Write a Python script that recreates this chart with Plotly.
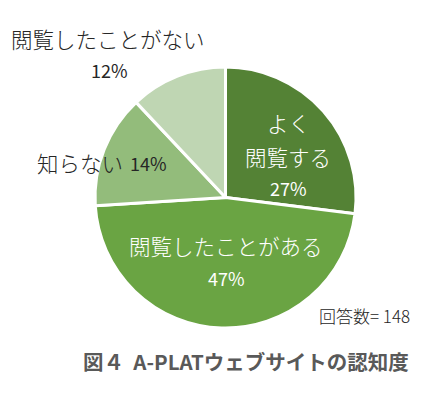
import plotly.graph_objects as go

categories = ["よく閲覧する", "閲覧したことがある", "知らない", "閲覧したことがない"]
values = [27, 47, 14, 12]
colors = ["#548235", "#6AA443", "#93BC7B", "#BFD6B3"]
n_resp = 148
title = "図４  A-PLATウェブサイトの認知度"

W, H = 444, 397
FONT = "Noto Sans CJK JP, Noto Sans, sans-serif"

fig = go.Figure(go.Pie(
    labels=categories, values=values, sort=False, direction="clockwise", rotation=0,
    marker=dict(colors=colors, line=dict(color="white", width=3)),
    textinfo="none", hoverinfo="label+percent", showlegend=False,
    domain=dict(x=[95 / W, 356 / W], y=[1 - 328 / H, 1 - 67 / H]),
))

def ann(text, x, y, size, color, bold=False, weight=None):
    f = dict(family=FONT, size=size, color=color)
    if weight:
        f["weight"] = weight
    fig.add_annotation(
        text=f"<b>{text}</b>" if bold else text,
        x=x / W, y=1 - y / H, xref="paper", yref="paper",
        xanchor="center", yanchor="middle", showarrow=False,
        font=f,
    )

pct = [f"{v}%" for v in values]
JS, PS = 21.5, 18
ann("よく", 288, 122, JS, "white", weight=300)
ann("閲覧する", 288, 157, JS, "white", weight=300)
ann(pct[0], 288, 188, PS, "white", weight=400)
ann(categories[1], 226, 245, JS, "white", weight=300)
ann(pct[1], 226, 278, PS, "white", weight=400)
ann(categories[2], 80, 162, JS, "#262626", weight=300)
ann(pct[2], 148, 163, PS, "#262626", weight=400)
ann(categories[3], 108, 38, JS, "#262626", weight=300)
ann(pct[3], 109, 70, PS, "#262626", weight=400)
ann(f"回答数= {n_resp}", 364, 315, 17, "#262626", weight=300)
ann(title, 246, 361, 20.5, "#595959", bold=True)

fig.update_layout(
    width=W, height=H, margin=dict(l=0, r=0, t=0, b=0),
    paper_bgcolor="white", plot_bgcolor="white",
    font=dict(family=FONT),
)
fig.write_html("out.html", config={"displayModeBar": False},
               post_script="document.body.style.margin='0';document.body.style.overflow='hidden';")
